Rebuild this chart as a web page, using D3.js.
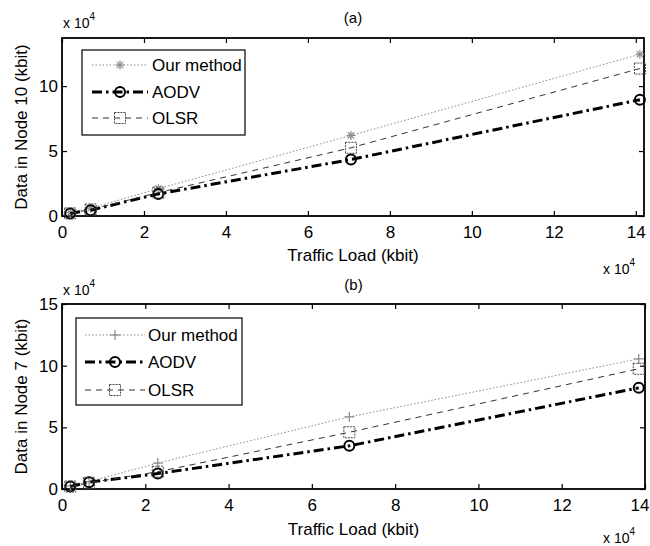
<!DOCTYPE html>
<html>
<head>
<meta charset="utf-8">
<script src="https://cdn.jsdelivr.net/npm/d3@7"></script>
<style>
  body { margin: 0; background: #fff; }
  text { font-family: "Liberation Sans", Arial, Helvetica, sans-serif; fill: #000; }
</style>
</head>
<body>
<svg id="chart" width="650" height="546"></svg>
<script>
// Series names (legend order)
const seriesNames = ["Our method", "AODV", "OLSR"];

// Panel (a): data stored in node 10, kbit
const loadA   = [2000, 7000, 23500, 70500, 141000];
const ourA    = [2500, 6000, 21000, 62000, 124500];
const aodvA   = [2000, 4500, 17000, 43500, 89500];
const olsrA   = [2000, 5000, 18000, 52500, 113500];

// Panel (b): data stored in node 7, kbit
const loadB   = [2000, 6500, 23000, 69000, 138500];
const ourB    = [2500, 6000, 21000, 58500, 105500];
const aodvB   = [2000, 5500, 12500, 35000, 82000];
const olsrB   = [2000, 5000, 14000, 46000, 97500];

// Tick labels (in units of 10^4)
const xTicks  = [0, 2, 4, 6, 8, 10, 12, 14];
const yTicksA = [0, 5, 10];
const yTicksB = [0, 5, 10, 15];

const svg = d3.select("#chart");

const panels = [
  { title: "(a)", ylabel: "Data in Node 10 (kbit)", x: loadA, ys: [ourA, aodvA, olsrA],
    xMax: 142000, yMax: 137000, yTicks: yTicksA, ourMarker: "asterisk",
    left: 62, right: 644, top: 38, bottom: 216,
    titleY: 23, expTopY: 28, xlabY: 261, expBotY: 274,
    legend: { x0: 82, y0: 50, x1: 245, y1: 135, lx0: 92, lx1: 148, tx: 152, rows: [65, 92, 118] } },
  { title: "(b)", ylabel: "Data in Node 7 (kbit)", x: loadB, ys: [ourB, aodvB, olsrB],
    xMax: 140000, yMax: 150000, yTicks: yTicksB, ourMarker: "plus",
    left: 62, right: 645, top: 304, bottom: 489,
    titleY: 290, expTopY: 295, xlabY: 535, expBotY: 543,
    legend: { x0: 76, y0: 318, x1: 242, y1: 405, lx0: 85, lx1: 145, tx: 148, rows: [335, 362, 390] } }
];

// Line styles per series
const styles = [
  { stroke: "#8a8a8a", width: 1,   dash: "1.5,2",      marker: null },
  { stroke: "#000",    width: 3,   dash: "10,4,2.5,4", marker: "circle" },
  { stroke: "#333",    width: 1,   dash: "6,5",        marker: "square" }
];

function drawMarker(g, type, cx, cy) {
  if (type === "circle") {
    g.append("circle").attr("cx", cx).attr("cy", cy).attr("r", 5)
      .attr("fill", "none").attr("stroke", "#000").attr("stroke-width", 2);
  } else if (type === "square") {
    g.append("rect").attr("x", cx - 5.5).attr("y", cy - 5.5).attr("width", 11).attr("height", 11)
      .attr("fill", "none").attr("stroke", "#444").attr("stroke-width", 1).attr("stroke-dasharray", "2,1");
  } else if (type === "asterisk") {
    const r = 4.5;
    [0, 45, 90, 135].forEach(a => {
      const t = a * Math.PI / 180;
      g.append("line").attr("x1", cx - r * Math.cos(t)).attr("y1", cy - r * Math.sin(t))
        .attr("x2", cx + r * Math.cos(t)).attr("y2", cy + r * Math.sin(t))
        .attr("stroke", "#888").attr("stroke-width", 1.2);
    });
  } else if (type === "plus") {
    const r = 5;
    g.append("line").attr("x1", cx - r).attr("y1", cy).attr("x2", cx + r).attr("y2", cy)
      .attr("stroke", "#888").attr("stroke-width", 1.2);
    g.append("line").attr("x1", cx).attr("y1", cy - r).attr("x2", cx).attr("y2", cy + r)
      .attr("stroke", "#888").attr("stroke-width", 1.2);
  }
}

function exponentLabel(x, y) {
  const t = svg.append("text").attr("x", x).attr("y", y).attr("font-size", 14);
  t.append("tspan").text("x 10");
  t.append("tspan").attr("dy", -8).attr("font-size", 10).text("4");
}

panels.forEach(p => {
  const xs = d3.scaleLinear().domain([0, p.xMax]).range([p.left, p.right]);
  const ys = d3.scaleLinear().domain([0, p.yMax]).range([p.bottom, p.top]);
  const g = svg.append("g");

  // Axes with inward ticks on all four sides
  const fmt = d => d3.format("d")(d / 10000);
  const xv = xTicks.map(d => d * 10000);
  const yv = p.yTicks.map(d => d * 10000);

  const axB = g.append("g").attr("transform", `translate(0,${p.bottom})`)
    .call(d3.axisBottom(xs).tickValues(xv).tickFormat(fmt).tickSize(-5).tickPadding(10));
  const axT = g.append("g").attr("transform", `translate(0,${p.top})`)
    .call(d3.axisTop(xs).tickValues(xv).tickFormat("").tickSize(-5));
  const axL = g.append("g").attr("transform", `translate(${p.left},0)`)
    .call(d3.axisLeft(ys).tickValues(yv).tickFormat(fmt).tickSize(-5).tickPadding(4));
  const axR = g.append("g").attr("transform", `translate(${p.right},0)`)
    .call(d3.axisRight(ys).tickValues(yv).tickFormat("").tickSize(-5));
  [axB, axT, axL, axR].forEach(a => {
    a.select(".domain").remove();
    a.selectAll(".tick line").attr("stroke", "#000").attr("stroke-width", 1.2);
    a.selectAll(".tick text").attr("font-size", 17).attr("font-family", "Liberation Sans, Arial, sans-serif").attr("fill", "#000");
  });
  // keep the last x label inside the page edge
  axB.selectAll(".tick text").filter(d => xs(d) + 10 > 650).attr("text-anchor", "end").attr("dx", 649 - p.right);

  // Box
  g.append("rect").attr("x", p.left).attr("y", p.top)
    .attr("width", p.right - p.left).attr("height", p.bottom - p.top)
    .attr("fill", "none").attr("stroke", "#000").attr("stroke-width", 1.8);

  // Series lines and markers
  p.ys.forEach((vals, i) => {
    const st = styles[i];
    const pts = vals.map((v, k) => [xs(p.x[k]), ys(v)]);
    g.append("path").attr("d", d3.line()(pts))
      .attr("fill", "none").attr("stroke", st.stroke).attr("stroke-width", st.width)
      .attr("stroke-dasharray", st.dash);
    const mk = st.marker || p.ourMarker;
    pts.forEach(([cx, cy]) => drawMarker(g, mk, cx, cy));
  });

  // Legend
  const L = p.legend;
  g.append("rect").attr("x", L.x0).attr("y", L.y0).attr("width", L.x1 - L.x0).attr("height", L.y1 - L.y0)
    .attr("fill", "#fff").attr("stroke", "#000").attr("stroke-width", 1.2);
  seriesNames.forEach((name, i) => {
    const st = styles[i];
    const yy = L.rows[i];
    g.append("line").attr("x1", L.lx0).attr("x2", L.lx1).attr("y1", yy).attr("y2", yy)
      .attr("stroke", st.stroke).attr("stroke-width", st.width).attr("stroke-dasharray", st.dash);
    drawMarker(g, st.marker || p.ourMarker, (L.lx0 + L.lx1) / 2, yy);
    g.append("text").attr("x", L.tx).attr("y", yy + 6).attr("font-size", 17).text(name);
  });

  // Titles and labels
  const cx = (p.left + p.right) / 2;
  svg.append("text").attr("x", cx).attr("y", p.titleY).attr("text-anchor", "middle")
    .attr("font-size", 15).text(p.title);
  svg.append("text").attr("x", cx).attr("y", p.xlabY).attr("text-anchor", "middle")
    .attr("font-size", 17).text("Traffic Load (kbit)");
  svg.append("text").attr("transform", `translate(27,${(p.top + p.bottom) / 2}) rotate(-90)`)
    .attr("text-anchor", "middle").attr("font-size", 17).text(p.ylabel);
  exponentLabel(63, p.expTopY);
  exponentLabel(603, p.expBotY);
});
</script>
</body>
</html>
